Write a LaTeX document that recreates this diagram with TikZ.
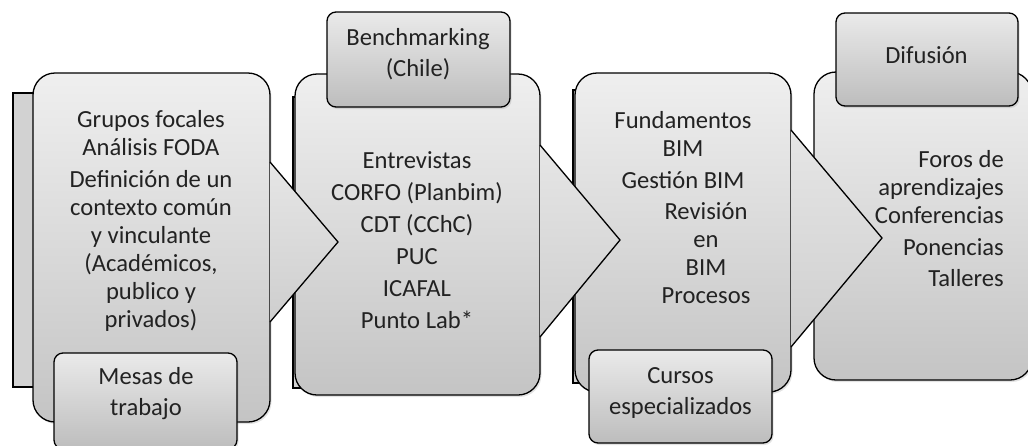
\documentclass[tikz,border=0pt]{standalone}
\usepackage{fontspec}
\setmainfont{Carlito}
\usetikzlibrary{shadows}
\definecolor{boxtop}{HTML}{EFEFEF}
\definecolor{boxbot}{HTML}{C4C4C4}
\definecolor{subtop}{HTML}{EAEAEA}
\definecolor{subbot}{HTML}{BDBDBD}
\definecolor{backfill}{HTML}{D2D2D2}
\definecolor{arrtop}{HTML}{E6E6E6}
\definecolor{arrbot}{HTML}{CECECE}
\definecolor{txtcol}{HTML}{222222}
\begin{document}
\begin{tikzpicture}[x=1pt,y=-1pt,
  softshadow/.style={drop shadow={opacity=0.22, shadow xshift=1.5pt, shadow yshift=-2pt}},
  backbox/.style={draw=black, line width=1.3pt, fill=backfill, inner sep=0pt},
  mainbox/.style={draw=black, line width=1.3pt, rounded corners=22pt, top color=boxtop, bottom color=boxbot, inner sep=0pt, softshadow},
  subbox/.style={draw=black, line width=1.3pt, rounded corners=9pt, top color=subtop, bottom color=subbot, inner sep=0pt, softshadow},
  arrowfill/.style={top color=arrtop, bottom color=arrbot, draw=none},
  arrowline/.style={draw=black, line width=1.3pt, line join=miter},
  txt/.style={font=\fontsize{24.6}{28}\selectfont, text=txtcol, inner sep=0pt, align=center},
  txtwide/.style={font=\fontsize{24.6}{32}\selectfont, text=txtcol, inner sep=0pt, align=center},
  subtxt/.style={font=\fontsize{24.6}{31}\selectfont, text=txtcol, inner sep=0pt, align=center}]
\useasboundingbox (0,0) rectangle (1028,445);
\clip (0,0) rectangle (1028,445);

% back boxes
\node[backbox, minimum width=70, minimum height=294] (k1) at (48,240) {};
\node[backbox, minimum width=50, minimum height=291] (k2) at (318,242.5) {};
\node[backbox, minimum width=50, minimum height=293] (k3) at (598,236.5) {};

% main boxes
\node[mainbox, minimum width=237, minimum height=349] (m1) at (151.5,247.5) {};
\node[mainbox, minimum width=245, minimum height=321] (m2) at (417.5,234.5) {};
\node[mainbox, minimum width=216, minimum height=319] (m3) at (683,232.5) {};
\node[mainbox, minimum width=218, minimum height=308] (m4) at (923,226) {};

% arrows
\coordinate (a1s) at (270,162); \coordinate (a1t) at (338,242); \coordinate (a1e) at (270,322);
\coordinate (a2s) at (540,145); \coordinate (a2t) at (620,240); \coordinate (a2e) at (540,337);
\coordinate (a3s) at (791,130); \coordinate (a3t) at (882,238); \coordinate (a3e) at (791,347);
\foreach \a in {1,2,3}{
  \fill[arrowfill] (a\a s) -- (a\a t) -- (a\a e) -- cycle;
  \draw[arrowline] (a\a s) -- (a\a t) -- (a\a e);
}

% sub boxes
\node[subbox, minimum width=183, minimum height=95] (s1) at (418.5,59.5) {};
\node[subbox, minimum width=183, minimum height=96] (s2) at (145.5,401) {};
\node[subbox, minimum width=183, minimum height=93] (s3) at (680.5,396.5) {};
\node[subbox, minimum width=182, minimum height=93] (s4) at (927,59.5) {};

% texts
\node[txt] (t1) at (151,221) {Grupos focales\\Análisis FODA\\[4pt]Definición de un\\contexto común\\y vinculante\\(Académicos,\\publico y\\privados)};
\node[txtwide] (t2) at (417,240.5) {Entrevistas\\CORFO (Planbim)\\CDT (CChC)\\PUC\\ICAFAL\\Punto Lab*};
\node[txt] (t3a) at (683,150.5) {Fundamentos\\BIM\\[4pt]Gestión BIM};
\node[txt] (t3b) at (706,253.5) {Revisión\\en\\BIM\\Procesos};
\node[txt, align=right, anchor=east] (t4) at (1004,218.5) {Foros de\\aprendizajes\\Conferencias\\[4pt]Ponencias\\[3pt]Talleres};

\node[subtxt] (u1) at (418,54) {Benchmarking\\(Chile)};
\node[subtxt] (u2) at (146,394) {Mesas de\\trabajo};
\node[subtxt] (u3) at (680.5,393) {Cursos\\especializados};
\node[subtxt] (u4) at (926.5,55) {Difusión};
\end{tikzpicture}
\end{document}
